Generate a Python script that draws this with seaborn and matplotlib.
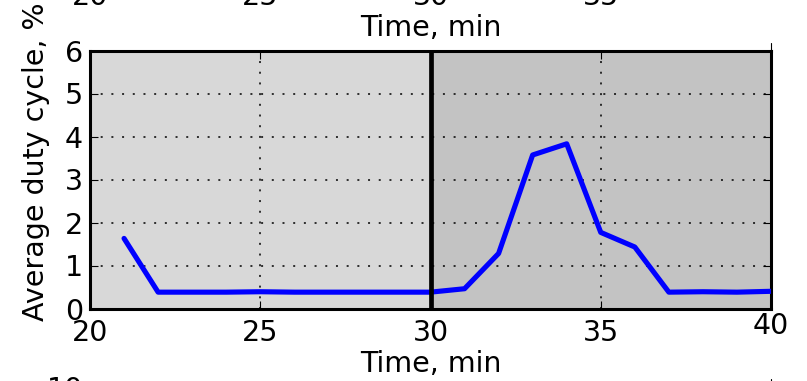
import matplotlib
matplotlib.use("Agg")
import matplotlib.pyplot as plt
import matplotlib.transforms as mtransforms
import seaborn as sns
import pandas as pd

# Average duty cycle per minute
minutes = [21, 22, 23, 24, 25, 26, 27, 28, 29, 30,
           31, 32, 33, 34, 35, 36, 37, 38, 39, 40]
duty = [1.63, 0.38, 0.38, 0.38, 0.39, 0.38, 0.38, 0.38, 0.38, 0.38,
        0.46, 1.28, 3.57, 3.83, 1.77, 1.43, 0.38, 0.39, 0.38, 0.40]

x_ticks = [20, 25, 30, 35, 40]
y_ticks = [0, 1, 2, 3, 4, 5, 6]
lower_y_ticks = [0, 2, 4, 6, 8, 10]

phase_edges = [20, 30, 40]
phase_colors = ["#d8d8d8", "#c3c3c3"]

sns.set_style("ticks")
plt.rcParams["font.family"] = ["DejaVu Sans"]
plt.rcParams["text.color"] = "black"
plt.rcParams["axes.labelcolor"] = "black"
FS = 20.5

W, H = 807, 381
fig = plt.figure(figsize=(W / 100, H / 100), dpi=100)

ax_l, ax_r, ax_t, ax_b = 90, 771, 50.5, 308.5
ax_w = (ax_r - ax_l) / W
ax_h = (ax_b - ax_t) / H
step = 336  # vertical spacing between stacked panels, px


def panel(top_px):
    rect = [ax_l / W, 1 - (top_px + (ax_b - ax_t)) / H, ax_w, ax_h]
    return fig.add_axes(rect)


def style(ax, yt):
    ax.set_xlim(20, 40)
    ax.set_xticks(x_ticks)
    ax.set_ylim(yt[0], yt[-1])
    ax.set_yticks(yt)
    for s in ax.spines.values():
        s.set_visible(True)
        s.set_linewidth(2.2)
        s.set_color("black")
    ax.tick_params(direction="in", length=6, width=0.8, color="black",
                   top=True, right=True, labelsize=FS, labelcolor="black")
    ax.tick_params(axis="x", pad=7.5)
    ax.tick_params(axis="y", pad=5)
    ax.grid(True, color="black", linestyle=(0, (1.3, 5.7)), linewidth=1.1)
    ax.set_axisbelow(False)
    ax.set_xlabel("Time, min", fontsize=FS, labelpad=2.5)
    # raise the last x tick label
    lab = ax.get_xticklabels()[-1]
    off = mtransforms.ScaledTranslation(0, 5.0 / 72, fig.dpi_scale_trans)
    lab.set_transform(lab.get_transform() + off)
    ax.plot([1, 1], [1, 1.028], transform=ax.transAxes, color="black",
            lw=0.8, clip_on=False)


# main panel
ax = panel(ax_t)
for (a, b), c in zip(zip(phase_edges[:-1], phase_edges[1:]), phase_colors):
    ax.axvspan(a, b, color=c, lw=0, zorder=0)
df = pd.DataFrame({"Time": minutes, "Duty": duty})
sns.lineplot(data=df, x="Time", y="Duty", color="blue", lw=3.7, ax=ax, zorder=3)
ax.axvline(phase_edges[1], color="black", lw=3.4, zorder=4)
style(ax, y_ticks)
ax.set_ylabel("")

# neighbouring panels of the stacked figure
ax_up = panel(ax_t - step)
style(ax_up, y_ticks)
ax_dn = panel(ax_t + step)
style(ax_dn, lower_y_ticks)

fig.text(36 / W, 1 - 162 / H, "Average duty cycle, %", rotation=90,
         ha="center", va="center", fontsize=FS)

fig.savefig("out.png", dpi=100)
